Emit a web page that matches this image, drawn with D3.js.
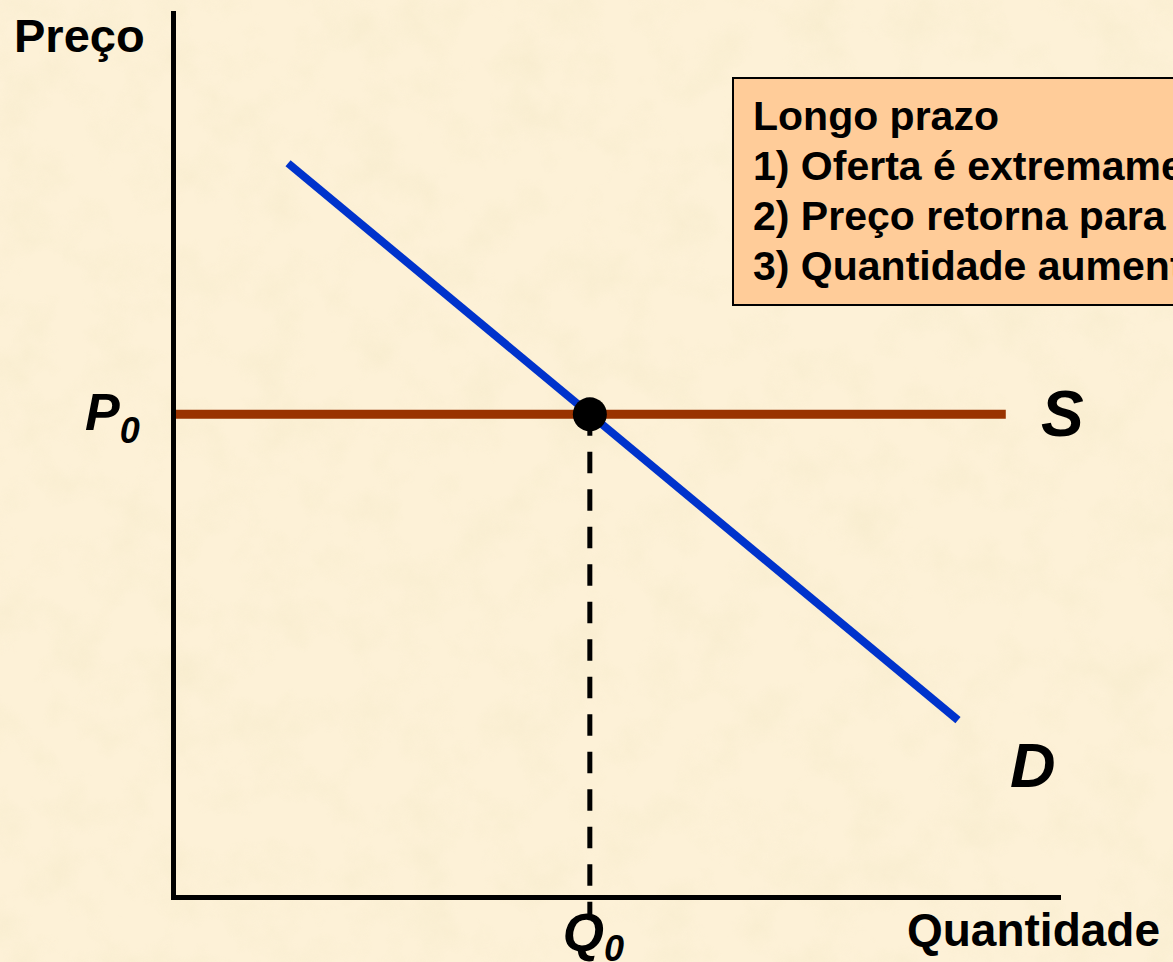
<!DOCTYPE html>
<html>
<head>
<meta charset="utf-8">
<script src="https://cdn.jsdelivr.net/npm/d3@7"></script>
<style>
    html, body { margin: 0; padding: 0; background: #fcefd2; overflow: hidden; }
    svg { display: block; font-family: "Liberation Sans", Arial, sans-serif; font-weight: bold; }
</style>
</head>
<body>
<div id="chart"></div>
<script>
/* jshint esversion: 6 */

// chart values (quantity / price on a 0..100 scale)
var demandQ = [13, 88.7];
var demandP = [83, 20];
var supplyQ = [0, 94.1];
var supplyP = [54.6, 54.6];
var equilibriumQ = [47.1];
var equilibriumP = [54.6];
var axisTitles = ["Preço", "Quantidade"];
var curveNames = ["S", "D"];
var tickNames = ["P", "Q"];
var noteLines = [
    "Longo prazo",
    "1) Oferta é extremamente elástica",
    "2) Preço retorna para P0",
    "3) Quantidade aumenta para Q2"
];

(function()
{
    "use strict";

    var W = 1173, H = 962;

    var svg = d3.select("#chart")
                .append("svg")
                .attr("width", W)
                .attr("height", H);

    // #########################################################################
    // parchment background
    var defs = svg.append("defs");
    var f = defs.append("filter")
                .attr("id", "paper")
                .attr("x", 0).attr("y", 0)
                .attr("width", "100%").attr("height", "100%");
    f.append("feTurbulence")
     .attr("type", "fractalNoise")
     .attr("baseFrequency", "0.02")
     .attr("numOctaves", 4)
     .attr("seed", 7);
    f.append("feColorMatrix")
     .attr("type", "matrix")
     .attr("values", "0 0 0 0 0.92  0 0 0 0 0.83  0 0 0 0 0.60  1.8 0 0 0 -0.78");

    svg.append("rect")
       .attr("width", W).attr("height", H)
       .attr("fill", "#fdf1d7");
    svg.append("rect")
       .attr("width", W).attr("height", H)
       .attr("filter", "url(#paper)")
       .attr("opacity", 0.7);
    // #########################################################################

    // #########################################################################
    var x = d3.scaleLinear().domain([0, 100]).range([173, 1058]);
    var y = d3.scaleLinear().domain([0, 100]).range([897, 13]);
    // #########################################################################

    var line = d3.line()
                 .x((d) => x(d[0]))
                 .y((d) => y(d[1]));

    // supply
    svg.append("path")
       .datum(d3.zip(supplyQ, supplyP))
       .attr("d", line)
       .attr("fill", "none")
       .attr("stroke", "#993300")
       .attr("stroke-width", 9);

    // demand
    svg.append("path")
       .datum(d3.zip(demandQ, demandP))
       .attr("d", line)
       .attr("fill", "none")
       .attr("stroke", "#0033cc")
       .attr("stroke-width", 8);

    // dashed drop line from equilibrium to the quantity axis
    svg.append("line")
       .attr("x1", x(equilibriumQ[0]))
       .attr("x2", x(equilibriumQ[0]))
       .attr("y1", y(equilibriumP[0]))
       .attr("y2", y(0) + 20)
       .attr("stroke", "#000")
       .attr("stroke-width", 5)
       .attr("stroke-dasharray", "21.5,16");

    // #########################################################################
    // axes, no ticks
    var axes = [
        svg.append("g")
           .attr("transform", `translate(0,${y(0)})`)
           .call(d3.axisBottom(x).tickValues([]).tickSizeOuter(0)),
        svg.append("g")
           .attr("transform", `translate(${x(0)},0)`)
           .call(d3.axisLeft(y).tickValues([]).tickSizeOuter(0))
    ];
    axes.forEach(function(g) {
        g.select(".domain")
         .attr("stroke", "#000")
         .attr("stroke-width", 5)
         .attr("stroke-linecap", "square");
    });
    // #########################################################################

    // equilibrium point
    svg.selectAll("circle.eq")
       .data(d3.zip(equilibriumQ, equilibriumP))
       .enter()
       .append("circle")
       .attr("class", "eq")
       .attr("cx", (d) => x(d[0]))
       .attr("cy", (d) => y(d[1]))
       .attr("r", 17)
       .attr("fill", "#000");

    // #########################################################################
    // axis titles
    svg.append("text")
       .attr("x", 14).attr("y", 52)
       .attr("font-size", 47)
       .text(axisTitles[0]);
    svg.append("text")
       .attr("x", 1160).attr("y", 946)
       .attr("text-anchor", "end")
       .attr("font-size", 46)
       .text(axisTitles[1]);

    // P0 and Q0
    var p0 = svg.append("text")
                .attr("x", x(0) - 88)
                .attr("y", y(equilibriumP[0]) + 16)
                .attr("font-size", 52)
                .attr("font-style", "italic");
    p0.append("tspan").text(tickNames[0]);
    p0.append("tspan").attr("font-size", 36).attr("dy", 13).text("0");

    var q0 = svg.append("text")
                .attr("x", x(equilibriumQ[0]) - 27)
                .attr("y", 951)
                .attr("font-size", 53)
                .attr("font-style", "italic");
    q0.append("tspan").text(tickNames[1]);
    q0.append("tspan").attr("font-size", 36).attr("dy", 10).text("0");

    // curve names
    svg.append("text")
       .attr("x", 1041)
       .attr("y", y(supplyP[1]) + 22)
       .attr("font-size", 64)
       .attr("font-style", "italic")
       .text(curveNames[0]);
    svg.append("text")
       .attr("x", 1010)
       .attr("y", 787)
       .attr("font-size", 63)
       .attr("font-style", "italic")
       .text(curveNames[1]);
    // #########################################################################

    // #########################################################################
    // note box
    svg.append("rect")
       .attr("x", 733).attr("y", 78)
       .attr("width", 600).attr("height", 227)
       .attr("fill", "#ffcc99")
       .attr("stroke", "#000")
       .attr("stroke-width", 2);

    svg.append("g")
       .selectAll("text")
       .data(noteLines)
       .enter()
       .append("text")
       .attr("x", 753)
       .attr("y", (d, i) => 130 + i * 50)
       .attr("font-size", 41)
       .text((d) => d);
    // #########################################################################
}
)();
</script>
</body>
</html>
